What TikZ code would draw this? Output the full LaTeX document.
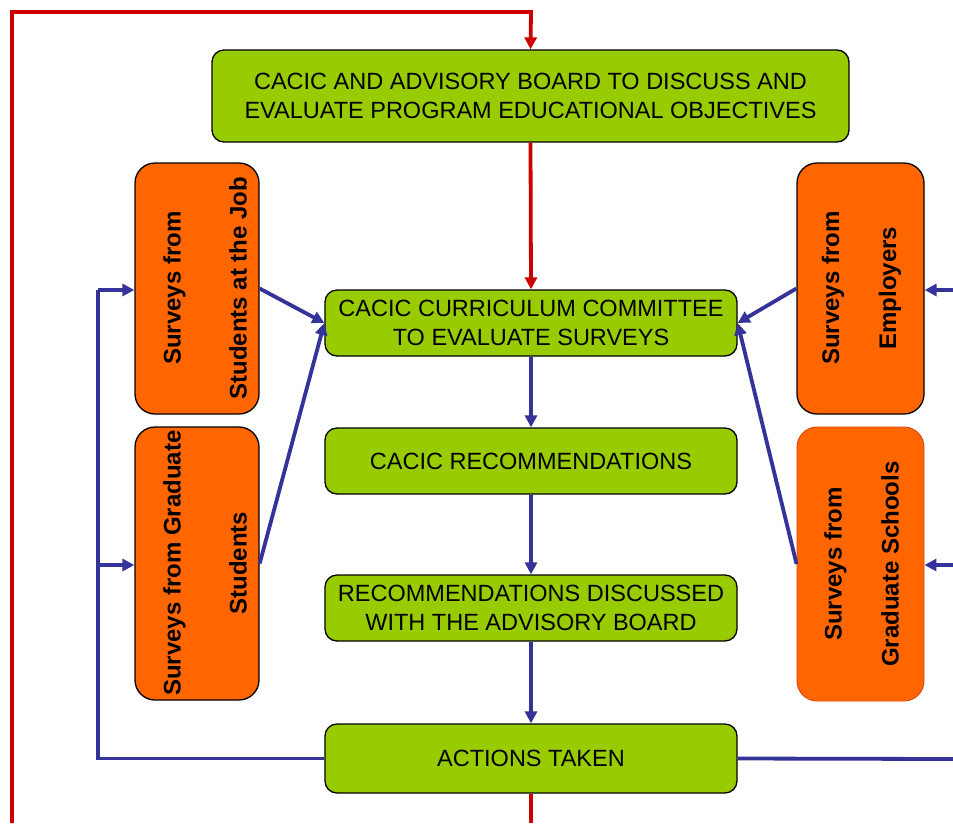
\documentclass[tikz,border=0pt]{standalone}
\usepackage{fontspec}
\setmainfont{Liberation Sans}
\usetikzlibrary{arrows.meta}
\definecolor{boxgreen}{HTML}{99CC00}
\definecolor{boxorange}{HTML}{FF6600}
\definecolor{lineblue}{HTML}{333399}
\definecolor{linered}{HTML}{CC0000}
\definecolor{edgeorange}{HTML}{D84A0A}
\tikzset{
  greenbox/.style={rectangle, rounded corners=12pt, fill=boxgreen, draw=black, line width=1.3pt,
    inner sep=0pt, align=center, font=\fontsize{23.5}{29}\selectfont},
  orangebox/.style={rectangle, rounded corners=20pt, fill=boxorange, draw=black, line width=1.3pt, inner sep=0pt},
  lefttext/.style={rotate=90, align=center, inner sep=0pt, font=\fontsize{24}{66}\selectfont\bfseries},
  righttext/.style={rotate=90, align=center, inner sep=0pt, font=\fontsize{24}{57}\selectfont\bfseries},
  blueflow/.style={draw=lineblue, line width=3.8pt, -{Triangle[length=12pt,width=12pt]}},
  blueline/.style={draw=lineblue, line width=3.8pt},
  redflow/.style={draw=linered, line width=3.8pt, -{Triangle[length=12pt,width=12pt]}},
  redline/.style={draw=linered, line width=3.8pt},
}
\begin{document}
\begin{tikzpicture}[x=1pt,y=-1pt]
\useasboundingbox (0,0) rectangle (953,823);
\fill[white] (0,0) rectangle (953,823);

% green process boxes
\node[greenbox, minimum width=637pt, minimum height=92pt] (top) at (530.5,96)
  {CACIC AND ADVISORY BOARD TO DISCUSS AND\\EVALUATE PROGRAM EDUCATIONAL OBJECTIVES};
\node[greenbox, minimum width=412pt, minimum height=66pt] (curr) at (531,323)
  {CACIC CURRICULUM COMMITTEE\\TO EVALUATE SURVEYS};
\node[greenbox, minimum width=412pt, minimum height=66pt] (rec) at (531,461)
  {CACIC RECOMMENDATIONS};
\node[greenbox, minimum width=412pt, minimum height=66pt] (disc) at (531,608)
  {RECOMMENDATIONS DISCUSSED\\WITH THE ADVISORY BOARD};
\node[greenbox, minimum width=412pt, minimum height=69pt] (act) at (531,758.5)
  {ACTIONS TAKEN};

% orange survey boxes
\node[orangebox, minimum width=124pt, minimum height=251pt] (job) at (197,288.5) {};
\node[orangebox, minimum width=124pt, minimum height=273pt] (gstud) at (197,563.5) {};
\node[orangebox, minimum width=127pt, minimum height=251pt] (emp) at (860.5,288.5) {};
\node[orangebox, draw=edgeorange, line width=0.9pt, minimum width=127pt, minimum height=274pt] (gsch) at (860.5,564) {};

\node[lefttext] (jobt) at (205,288) {Surveys from\\Students at the Job};
\node[lefttext] (gstudt) at (205,563) {Surveys from Graduate\\Students};
\node[righttext] (empt) at (861.5,288) {Surveys from\\Employers};
\node[righttext] (gscht) at (861.5,564) {Surveys from\\Graduate Schools};

% coordinates for free ends
\coordinate (rbl) at (12,823);
\coordinate (rtl) at (12,12);
\coordinate (rtr) at (531,12);
\coordinate (rbm) at (531,823);
\coordinate (lt) at (98,290);
\coordinate (lm) at (98,565);
\coordinate (re) at (953,759);
\coordinate (rt1) at (953,290);
\coordinate (rt2) at (953,565);

% red loop
\draw[redflow] (rbl) -- (rtl) -- (rtr) -- (top.north);
\draw[redflow] (top.south) -- (curr.north);
\draw[redline] (act.south) -- (rbm);

% blue flow
\draw[blueflow] (curr.south) -- (rec.north);
\draw[blueflow] (rec.south) -- (disc.north);
\draw[blueflow] (disc.south) -- (act.north);

\draw[blueflow] (job.east) -- (curr.west);
\draw[blueflow] (gstud.east) -- (curr.west);
\draw[blueflow] (emp.west) -- (curr.east);
\draw[blueflow] (gsch.west) -- (curr.east);

% feedback
\draw[blueline] (act.west) -| (lt);
\draw[blueflow] (lt) -- (lt -| job.west);
\draw[blueflow] (lm) -- (lm -| gstud.west);
\draw[blueline] (act.east) -- (re);
\draw[blueflow] (rt1) -- (rt1 -| emp.east);
\draw[blueflow] (rt2) -- (rt2 -| gsch.east);
\end{tikzpicture}
\end{document}
